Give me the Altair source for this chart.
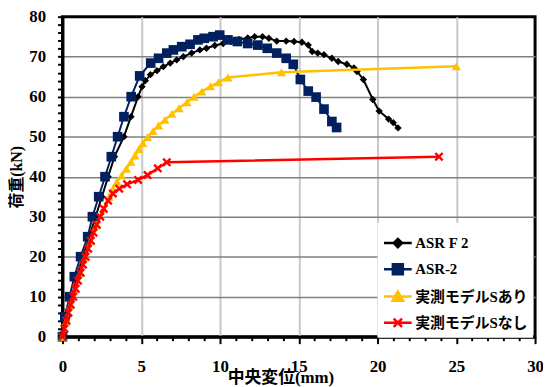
import altair as alt
import pandas as pd

# ---------------- data ----------------
names = ["ASR F 2", "ASR-2", "実測モデルSあり", "実測モデルSなし"]
colors = ["#000000", "#002060", "#FFC000", "#FF0000"]

x_f2 = [0, 0.3, 0.6, 0.9, 1.3, 1.7, 2.1, 2.5, 2.9, 3.3, 3.9, 4.35, 4.8, 5.05, 5.26, 5.58,
        6.0, 6.4, 6.84, 7.25, 7.67, 8.2, 8.72, 9.14, 9.67, 10.2, 10.7, 11.2, 11.76, 12.2,
        12.7, 13.1, 13.6, 14.2, 14.7, 15.2, 15.6, 15.85, 16.2, 16.6, 17.1, 17.5, 18.05,
        18.5, 18.7, 19.1, 19.7, 20.1, 20.7, 21.0, 21.3]
y_f2 = [0, 5, 10, 15, 20, 25, 30, 35, 40, 45, 50, 55, 60, 62.5, 64, 65.5,
        66.5, 67.5, 68.4, 69.2, 70.0, 70.9, 71.7, 72.1, 72.8, 73.3, 73.8, 74.3, 74.7, 75.0,
        75.0, 74.6, 73.9, 73.9, 73.8, 73.6, 72.9, 71.3, 70.9, 70.5, 69.6, 68.8, 68.1,
        67.2, 66.3, 64.3, 59.3, 56.4, 54.4, 53.5, 52.2]

x_a2 = [0, 0.15, 0.45, 0.75, 1.15, 1.6, 1.9, 2.3, 2.7, 3.1, 3.5, 3.9, 4.36, 4.9, 5.6, 6.1,
        6.62, 7.04, 7.57, 8.1, 8.6, 9.0, 9.56, 9.98, 10.5, 11.1, 11.76, 12.4, 13.0, 13.6,
        14.2, 14.65, 15.1, 15.6, 16.1, 16.6, 17.1, 17.4]
y_a2 = [0, 5, 10, 15, 20, 25, 30, 35, 40, 45, 50, 55, 60, 65.2, 68.4, 69.6,
        70.9, 71.7, 72.5, 73.1, 74.2, 74.6, 75.0, 75.4, 74.2, 73.8, 73.3, 72.9, 72.1, 70.9,
        69.6, 68.1, 64.3, 61.4, 59.9, 56.9, 53.8, 52.3]

x_sa = [0, 0.25, 0.52, 0.83, 1.15, 1.46, 1.8, 2.17, 2.6, 2.95, 3.2, 3.45, 3.75, 4.05, 4.35,
        4.6, 4.85, 5.1, 5.4, 5.75, 6.1, 6.5, 6.95, 7.4, 7.9, 8.35, 8.85, 9.4, 9.9, 10.5,
        13.9, 25.0]
y_sa = [0, 4, 8, 12, 16, 20, 24, 28, 32, 35, 37, 38.7, 40.3, 42, 43.7,
        45.3, 46.9, 48.4, 49.9, 51.4, 52.8, 54.2, 55.7, 57.1, 58.6, 60, 61.3, 62.6, 63.6, 64.8,
        66.1, 67.6]

x_sn = [0, 0.12, 0.25, 0.38, 0.52, 0.68, 0.83, 0.98, 1.15, 1.3, 1.46, 1.63, 1.8, 1.97, 2.17,
        2.4, 2.62, 2.9, 3.2, 3.6, 4.1, 4.8, 5.4, 6.05, 6.62, 23.9]
y_sn = [0, 2, 4, 6, 8, 10, 12, 14, 16, 18, 20, 22, 24, 26, 28,
        30, 32, 34, 35.8, 37, 38.1, 39.2, 40.4, 42.1, 43.6, 45.0]

x_ticks = list(range(0, 31))
y_ticks = list(range(0, 81, 2))

# ---------------- styling ----------------
SERIF = "'Liberation Serif', 'Noto Sans CJK JP'"
CROSS = "M-1,-1L1,1M1,-1L-1,1"
legend_paths = [
    "M-1,0L1,0M0,-0.3L0.3,0L0,0.3L-0.3,0Z",
    "M-1,0L1,0M-0.36,-0.36L0.36,-0.36L0.36,0.36L-0.36,0.36Z",
    "M-1,0L1,0M0,-0.36L0.38,0.3L-0.38,0.3Z",
    "M-1,0L1,0M-0.3,-0.3L0.3,0.3M0.3,-0.3L-0.3,0.3",
]

xaxis = alt.Axis(
    values=x_ticks,
    labelExpr="datum.value % 5 === 0 ? datum.label : ''",
    labelFont=SERIF, labelFontSize=17, labelFontWeight="bold", labelColor="black",
    labelPadding=15, labelOverlap=False, labelFlush=False,
    tickColor="black", tickWidth=2,
    tickSize={"condition": {"test": "datum.value % 5 === 0", "value": 7}, "value": 4},
    domainColor="black", domainWidth=3,
    grid=True, gridColor="#c8c8c8", gridWidth=2,
    gridOpacity={"condition": {"test": "datum.value % 5 === 0 && datum.value > 0 && datum.value < 30",
                               "value": 1}, "value": 0},
    title="中央変位(mm)", titleFont=SERIF, titleFontSize=17, titleFontWeight="bold",
    titleColor="black", titleX=220, titleY=41, titleAlign="center", titleBaseline="middle",
)
yaxis = alt.Axis(
    values=y_ticks,
    labelExpr="datum.value % 10 === 0 ? datum.label : ''",
    labelFont=SERIF, labelFontSize=17, labelFontWeight="bold", labelColor="black",
    labelPadding=12, labelOverlap=False, labelFlush=False,
    tickColor="black", tickWidth=2, tickSize=5,
    domainColor="black", domainWidth=3,
    grid=True, gridColor="#808080", gridWidth=1.5,
    gridOpacity={"condition": {"test": "datum.value % 10 === 0 && datum.value > 0 && datum.value < 80",
                               "value": 1}, "value": 0},
    title="荷重(kN)", titleFont=SERIF, titleFontSize=16, titleFontWeight="bold",
    titleColor="black", titleX=-46, titleY=161.5, titleAngle=270,
    titleAlign="center", titleBaseline="middle",
)

X = alt.X("x:Q", scale=alt.Scale(domain=[0, 30], nice=False, zero=False), axis=xaxis)
Y = alt.Y("y:Q", scale=alt.Scale(domain=[0, 80], nice=False, zero=False), axis=yaxis)


def series(xs, ys, color, shape, size, lw, filled=True, pw=1):
    df = pd.DataFrame({"x": xs, "y": ys, "i": list(range(len(xs)))})
    base = alt.Chart(df).encode(x=X, y=Y, order=alt.Order("i:Q"))
    line = base.mark_line(color=color, strokeWidth=lw)
    pts = base.mark_point(shape=shape, size=size, filled=filled, color=color,
                          opacity=1, strokeWidth=pw)
    return [line, pts]


layers = []
layers += series(x_f2, y_f2, colors[0], "diamond", 55, 2)
layers += series(x_a2, y_a2, colors[1], "square", 95, 2)
layers += series(x_sa, y_sa, colors[2], "triangle-up", 85, 2.5)
layers += series(x_sn, y_sn, colors[3], CROSS, 55, 2.5, filled=False, pw=2.4)

leg = alt.Legend(
    title=None, orient="none", legendX=318, legendY=208,
    fillColor="white", padding=5,
    labelFont=SERIF, labelFontSize=15, labelFontWeight="bold", labelColor="black",
    symbolSize=784, symbolStrokeWidth=2.5, rowPadding=1.5, labelOffset=2,
    symbolOffset=0, labelLimit=250,
)
leg_df = pd.DataFrame({"series": names})
legend_layer = alt.Chart(leg_df).mark_point(filled=True, size=784, clip=True, opacity=1,
                                            strokeWidth=2.5).encode(
    x=alt.value(-80), y=alt.value(-80),
    shape=alt.Shape("series:N", scale=alt.Scale(domain=names, range=legend_paths), legend=leg),
    fill=alt.Fill("series:N", scale=alt.Scale(domain=names, range=colors), legend=leg),
    stroke=alt.Stroke("series:N", scale=alt.Scale(domain=names, range=colors), legend=leg),
)

chart = alt.layer(*layers, legend_layer).properties(
    width=477, height=323,
    autosize=alt.AutoSizeParams(type="none"),
    padding={"left": 55, "top": 7, "right": 8, "bottom": 50},
    background="white",
).configure_view(stroke="black", strokeWidth=3)

chart.save("out.html", embed_options={"renderer": "svg", "actions": False})
